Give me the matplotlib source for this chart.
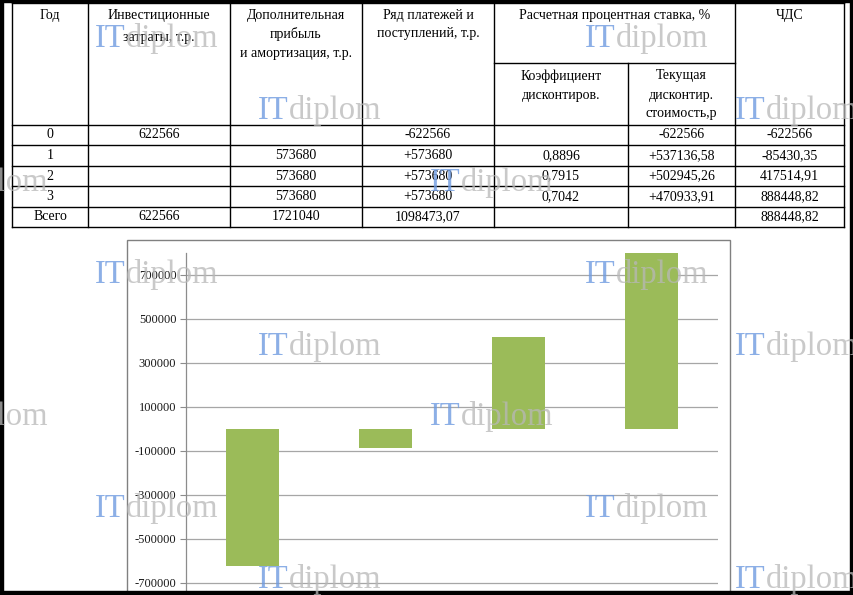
import matplotlib
matplotlib.use("Agg")
import matplotlib.pyplot as plt
from matplotlib.patches import Rectangle
import numpy as np

# ---------------- data ----------------
header_year = "Год"
header_invest = ["Инвестиционные", "затраты, т.р."]
header_profit = ["Дополнительная", "прибыль", "и амортизация, т.р."]
header_flows = ["Ряд платежей и", "поступлений, т.р."]
header_rate = "Расчетная процентная ставка, %"
header_npv = "ЧДС"
header_coef = ["Коэффициент", "дисконтиров."]
header_value = ["Текущая", "дисконтир.", "стоимость,р"]

years = ["0", "1", "2", "3", "Всего"]
invest = ["622566", "", "", "", "622566"]
profit = ["", "573680", "573680", "573680", "1721040"]
flows = ["-622566", "+573680", "+573680", "+573680", "1098473,07"]
disc_coef = ["", "0,8896", "0,7915", "0,7042", ""]
disc_value = ["-622566", "+537136,58", "+502945,26", "+470933,91", ""]
npv_text = ["-622566", "-85430,35", "417514,91", "888448,82", "888448,82"]

chart_categories = [0, 1, 2, 3]
chart_npv = [-622566, -85430.35, 417514.91, 888448.82]
y_ticks = [-700000, -500000, -300000, -100000, 100000, 300000, 500000, 700000]

# ---------------- figure ----------------
W, H = 854, 595
fig = plt.figure(figsize=(W / 100, H / 100), dpi=100, facecolor="white")
SERIF = ["Liberation Serif", "DejaVu Serif"]

bg = fig.add_axes([0, 0, 1, 1], zorder=0)
bg.set_xlim(0, W)
bg.set_ylim(H, 0)
bg.axis("off")

# chart box
bg.add_patch(Rectangle((127, 240), 603, 380, facecolor="white",
                       edgecolor="#808080", lw=1.0))

# ---------------- table ----------------
col_x = [12, 88, 230, 362, 494, 628, 735, 844]
row_y = [125, 145, 166, 186, 207, 227]
top_y = 3
sub_y = 63
lc = "black"
lw = 1.0
for x in col_x:
    if x == 628:
        bg.plot([x, x], [sub_y, row_y[-1]], color=lc, lw=lw)
    else:
        bg.plot([x, x], [top_y, row_y[-1]], color=lc, lw=lw)
bg.plot([col_x[0], col_x[-1]], [top_y, top_y], color=lc, lw=lw)
bg.plot([494, 735], [sub_y, sub_y], color=lc, lw=lw)
for y in row_y:
    bg.plot([col_x[0], col_x[-1]], [y, y], color=lc, lw=lw)

fs = 10
def t(x, y, s):
    bg.text(x, y, s, ha="center", va="center", fontsize=fs,
            family=SERIF, color="black")

centers = [(col_x[i] + col_x[i + 1]) / 2 for i in range(len(col_x) - 1)]
t(centers[0], 15, header_year)
for s, y in zip(header_invest, [15, 37]):
    t(centers[1], y, s)
for s, y in zip(header_profit, [15, 34, 53]):
    t(centers[2], y, s)
for s, y in zip(header_flows, [15, 34]):
    t(centers[3], y, s)
t((494 + 735) / 2, 15, header_rate)
t(centers[6], 15, header_npv)
for s, y in zip(header_coef, [76, 95]):
    t(centers[4], y, s)
for s, y in zip(header_value, [76, 95, 114]):
    t(centers[5], y, s)

columns = [years, invest, profit, flows, disc_coef, disc_value, npv_text]
for r in range(len(years)):
    yc = (row_y[r] + row_y[r + 1]) / 2
    for c, col in enumerate(columns):
        if col[r]:
            t(centers[c], yc, col[r])

# ---------------- chart ----------------
ax_left, ax_right = 186, 718
ax_top, ax_bottom = 253, 595
ax = fig.add_axes([ax_left / W, 1 - ax_bottom / H,
                   (ax_right - ax_left) / W, (ax_bottom - ax_top) / H], zorder=1)
ax.patch.set_alpha(0)
ax.bar(chart_categories, chart_npv, width=0.4, color="#9bbb59", zorder=2)
ax.set_xlim(-0.5, 3.5)
ax.set_ylim(-755000, 800000)
ax.set_yticks(y_ticks)
ax.set_yticklabels([str(v) for v in y_ticks], family=SERIF, fontsize=9,
                   color="#1a1a1a")
ax.set_xticks([])
ax.grid(axis="y", color="#a6a6a6", lw=0.9, zorder=0)
ax.set_axisbelow(True)
for side in ["top", "right", "bottom"]:
    ax.spines[side].set_visible(False)
ax.spines["left"].set_color("#8c8c8c")
ax.spines["left"].set_linewidth(0.9)
ax.tick_params(axis="y", length=4, color="#8c8c8c", pad=3)

# ---------------- watermarks ----------------
wm = fig.add_axes([0, 0, 1, 1], zorder=3)
wm.set_xlim(0, W)
wm.set_ylim(H, 0)
wm.axis("off")
wm.patch.set_alpha(0)
wm_positions = [(95, 47), (585, 47), (258, 119), (735, 119),
                (-75, 191), (430, 191), (95, 283), (585, 283),
                (258, 355), (735, 355), (-75, 425), (430, 425),
                (95, 517), (585, 517), (258, 588), (735, 588)]
wfs = 23.5
for (x, y) in wm_positions:
    wm.text(x, y, "IT", ha="left", va="baseline", fontsize=wfs, family=SERIF,
            color="#6f9be0", alpha=0.8)
    wm.text(x + 31, y, "diplom", ha="left", va="baseline", fontsize=wfs,
            family=SERIF, color="#b8b8b8", alpha=0.75)

# black frame of the screenshot
wm.add_patch(Rectangle((0, 0), 3, H, color="black"))
wm.add_patch(Rectangle((0, 0), W, 2, color="black"))
wm.add_patch(Rectangle((W - 4, 0), 4, H, color="black"))
wm.add_patch(Rectangle((0, H - 4), W, 4, color="black"))

fig.savefig("out.png", dpi=100, facecolor="white")
